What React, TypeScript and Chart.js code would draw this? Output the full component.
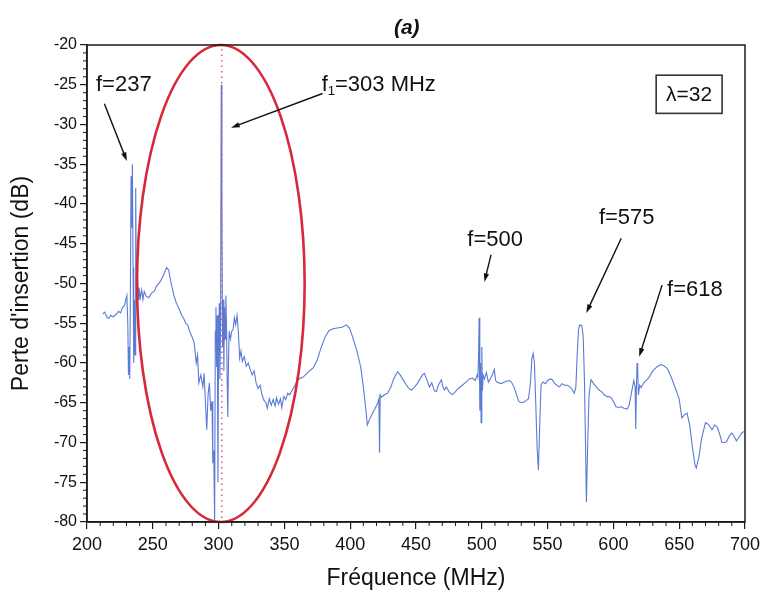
import { useEffect, useRef } from "react";
import { Chart, registerables } from "chart.js";

Chart.register(...registerables);

// ---- Data ----
const frequencies = [
  212, 213.5, 215, 216.5, 218, 220, 222, 224, 225.5, 227, 228.5, 229.5, 230.3, 231, 231.5, 232, 232.5, 233, 233.5, 234,
  234.5, 235, 235.5, 236, 236.5, 237, 237.5, 238, 238.5, 239, 239.5, 240.5, 241.5, 242.5, 243.5, 245, 247, 249, 251, 253,
  255.5, 258, 260.5, 262, 264, 266, 268, 270, 272, 273.5, 275, 276.5, 278, 280, 281.5, 283, 284, 285, 286.5, 288,
  289, 290, 291, 292, 293, 294, 295, 295.6, 296.3, 297, 297.5, 298, 298.5, 299, 299.5, 300, 300.5, 301, 301.5, 302,
  302.5, 303, 303.5, 304, 304.5, 305, 305.5, 306, 306.5, 307, 307.5, 308, 309, 310, 311, 312, 313, 314, 315, 316,
  317, 318, 319.5, 321, 322.5, 324, 325.5, 327, 328.5, 330, 331.5, 333, 334.5, 336, 337, 338.5, 340, 341.5, 343, 344,
  345.5, 347, 348, 349.5, 351, 352.5, 354, 356, 358, 360, 362, 364, 366, 369, 372, 375, 378, 381, 384, 387,
  390, 394, 397, 399.5, 402, 405, 408, 410, 412, 413, 415, 417, 419, 421, 421.8, 422.3, 422.8, 423.8, 426, 428.4,
  431, 433, 436, 438, 439.8, 442, 444.5, 446.6, 449, 451, 453, 455, 456.4, 458, 460.2, 462, 464, 465.5, 467, 469.3,
  470.5, 471.6, 473, 475, 477.7, 480, 482, 485.3, 488, 490.5, 492.9, 495, 496.5, 497, 497.5, 498, 498.5, 499, 499.5, 500,
  500.5, 501, 502, 503.5, 505, 506.5, 508, 509.5, 510.5, 511.5, 513, 515, 517, 519, 521, 522.5, 524.5, 526, 528, 530,
  532, 534, 535.5, 537, 538, 539, 540, 541, 542, 543, 544, 545, 546.5, 548.5, 550, 552, 553.6, 555, 557, 559,
  561, 563, 565, 567, 568.5, 570.3, 571.5, 572.5, 573.5, 574.5, 576, 577, 578, 579, 579.5, 580.5, 581.5, 583, 585, 587,
  589, 591, 593, 595, 598, 600, 602, 604, 606, 608, 610.5, 612, 614, 615.5, 616.5, 617, 617.5, 618, 618.5, 619,
  620, 621, 623, 625, 627, 630, 633, 636, 638, 641, 644, 647.6, 650, 652, 654, 656, 658, 660, 662, 663,
  665, 667, 670, 672, 675, 677, 678.7, 680.5, 682.5, 684, 686, 688, 690, 692, 693.5, 695.5, 697.5, 699.3,
];

const losses = [
  -53.8, -53.6, -54.2, -54.4, -54.0, -54.2, -53.9, -53.5, -53.7, -53.0, -52.8, -52.0, -51.5, -55, -61.5, -58, -62, -50, -36.5, -43,
  -35, -48, -60, -52, -59, -38, -50, -51, -49.5, -52, -50.5, -51.8, -50.8, -52, -51, -51.6, -51.8, -51.2, -51, -50.3,
  -49.8, -49, -48, -48.3, -50, -51.5, -52.5, -53.2, -54, -54.4, -55, -55.2, -56, -56.8, -57.5, -60, -59, -62.5, -61.5, -63,
  -61.3, -65, -68.4, -64, -62.5, -66, -64.8, -72.6, -71, -80, -56, -53, -60.5, -54, -75, -58, -52.5, -62, -55, -25,
  -40, -58, -52, -61, -53, -57, -51.5, -55, -62, -66.8, -60, -56, -57, -56, -55.8, -54.3, -55.2, -54, -56, -59.4,
  -58.5, -59.8, -59.2, -60.4, -60, -60.8, -61.5, -61, -62.5, -63.2, -62.8, -64, -64.7, -65, -65.7, -64.5, -65.3, -64.6, -65.4, -64.4,
  -65.2, -64.5, -65.6, -64.2, -64.6, -63.8, -64, -63.4, -62.8, -62.2, -61.9, -61.8, -61.5, -61, -60.6, -59.6, -58, -56.7, -55.9, -55.7,
  -55.6, -55.5, -55.2, -55.6, -56.8, -58.4, -60.5, -63, -66, -67.8, -67, -66.3, -65.7, -65, -64.5, -71.3, -64, -64.3, -64, -63.8,
  -63, -62, -61.1, -61.5, -62, -62.6, -63.2, -63.4, -63, -62.6, -62, -61.5, -61.3, -62, -63, -62.5, -63.5, -63.6, -62.8, -62.1,
  -63, -63.4, -63, -63.6, -64, -63.6, -63.2, -62.8, -62.4, -62, -61.9, -62.2, -61.5, -61.8, -59.5, -54.3, -66, -60, -67.5, -58,
  -63.5, -61.5, -62, -61.2, -62.4, -62, -61.5, -60.8, -62.2, -62.4, -62.5, -62.6, -62.4, -62.3, -62.2, -62.4, -63, -63.8, -64.8, -65,
  -64.9, -64.7, -64.5, -62.5, -59.5, -58.8, -60, -65, -70.5, -73.5, -68, -62.8, -62.4, -62.6, -62.2, -62, -62.1, -62.5, -62.8, -63,
  -62.6, -62.8, -62.8, -63, -63.3, -63.8, -63, -59, -55.8, -55.2, -55.3, -56.5, -62, -72, -77.5, -70, -64, -62.1, -62.6, -63,
  -63.4, -63.6, -64, -64.2, -64.3, -64.8, -65.5, -65.6, -65.5, -65.7, -65.8, -65.3, -63.5, -62.2, -63, -68.3, -63, -60, -61, -64,
  -62.8, -63.1, -62.5, -62.2, -61.8, -61, -60.5, -60.2, -60.3, -60.7, -61.8, -63.4, -64.5, -66.9, -66.5, -66.3, -67.8, -70.5, -72.8, -73.2,
  -71.8, -69.5, -67.5, -67.7, -68.4, -67.8, -68, -68.8, -70, -70, -69.9, -69.2, -68.8, -69.3, -69.8, -69.3, -68.8, -68.6,
];

const xMin = 200;
const xMax = 700;
const xStep = 50;
const yMin = -80;
const yMax = -20;
const yStep = 5;

const peakLabels = ["f=237", "f=500", "f=575", "f=618"];
const mainPeakFrequency = 303;

const FONT = "'Liberation Sans', Arial, Helvetica, sans-serif";

export default function App() {
  const canvasRef = useRef<HTMLCanvasElement | null>(null);

  useEffect(() => {
    const canvas = canvasRef.current;
    if (!canvas) return;

    const points = frequencies.map((f, i) => ({ x: f, y: losses[i] }));

    const decor = {
      id: "decor",
      afterDatasetsDraw(chart: any) {
        const { ctx, chartArea, scales } = chart;
        const xs = scales.x;
        const ys = scales.y;
        const px = (v: number) => xs.getPixelForValue(v);
        const py = (v: number) => ys.getPixelForValue(v);

        ctx.save();

        // dotted red vertical line at the main resonance
        ctx.strokeStyle = "#e0607a";
        ctx.lineWidth = 1.6;
        ctx.setLineDash([1.5, 4]);
        ctx.beginPath();
        ctx.moveTo(px(302.4), chartArea.top + 4);
        ctx.lineTo(px(302.4), chartArea.bottom);
        ctx.stroke();
        ctx.setLineDash([]);

        // red ellipse
        const cx = px(301.7);
        const cy = py(-50);
        const rx = Math.abs(px(365.4) - cx);
        const ry = Math.abs(py(-20) - cy);
        ctx.strokeStyle = "#d8283c";
        ctx.lineWidth = 2.6;
        ctx.beginPath();
        ctx.ellipse(cx, cy, rx, ry, 0, 0, Math.PI * 2);
        ctx.stroke();

        // frame
        ctx.strokeStyle = "#1a1a1a";
        ctx.lineWidth = 1.5;
        ctx.strokeRect(chartArea.left, chartArea.top, chartArea.right - chartArea.left, chartArea.bottom - chartArea.top);

        // minor ticks
        ctx.lineWidth = 1;
        ctx.beginPath();
        for (let f = xMin; f <= xMax; f += 10) {
          if (f % xStep === 0) continue;
          const x = px(f);
          ctx.moveTo(x, chartArea.bottom);
          ctx.lineTo(x, chartArea.bottom + 4);
        }
        for (let d = yMin; d <= yMax; d += 1) {
          if (d % yStep === 0) continue;
          const y = py(d);
          ctx.moveTo(chartArea.left, y);
          ctx.lineTo(chartArea.left - 4, y);
        }
        ctx.stroke();

        // arrows
        const arrow = (x1: number, y1: number, x2: number, y2: number) => {
          const ax = px(x1), ay = py(y1), bx = px(x2), by = py(y2);
          const ang = Math.atan2(by - ay, bx - ax);
          const head = 9;
          ctx.strokeStyle = "#111";
          ctx.fillStyle = "#111";
          ctx.lineWidth = 1.4;
          ctx.beginPath();
          ctx.moveTo(ax, ay);
          ctx.lineTo(bx - Math.cos(ang) * head * 0.8, by - Math.sin(ang) * head * 0.8);
          ctx.stroke();
          ctx.beginPath();
          ctx.moveTo(bx, by);
          ctx.lineTo(bx - head * Math.cos(ang - 0.3), by - head * Math.sin(ang - 0.3));
          ctx.lineTo(bx - head * Math.cos(ang + 0.3), by - head * Math.sin(ang + 0.3));
          ctx.closePath();
          ctx.fill();
        };
        arrow(213.2, -27.4, 230.3, -34.6);
        arrow(379, -26.1, 309.5, -30.4);
        arrow(507, -46.4, 502, -49.8);
        arrow(606, -44.3, 579.4, -53.7);
        arrow(637, -50.2, 619.6, -59.2);

        // labels
        ctx.fillStyle = "#111";
        ctx.textBaseline = "middle";
        ctx.textAlign = "left";
        ctx.font = `22px ${FONT}`;
        ctx.fillText(peakLabels[0], px(206.8), py(-25));
        ctx.fillText(peakLabels[1], px(489), py(-44.5));
        ctx.fillText(peakLabels[2], px(589), py(-41.8));
        ctx.fillText(peakLabels[3], px(640.8), py(-50.8));

        // f1=303 MHz with subscript
        let tx = px(378.3);
        const ty = py(-25);
        ctx.fillText("f", tx, ty);
        tx += ctx.measureText("f").width;
        ctx.font = `13px ${FONT}`;
        ctx.fillText("1", tx, ty + 7);
        tx += ctx.measureText("1").width;
        ctx.font = `22px ${FONT}`;
        ctx.fillText(`=${mainPeakFrequency} MHz`, tx, ty);

        // lambda box
        const bx1 = px(632.5), bx2 = px(682.6), by1 = py(-23.8), by2 = py(-28.6);
        ctx.strokeStyle = "#333";
        ctx.lineWidth = 1.6;
        ctx.strokeRect(bx1, by1, bx2 - bx1, by2 - by1);
        ctx.textAlign = "center";
        ctx.font = `21px ${FONT}`;
        ctx.fillText("λ=32", (bx1 + bx2) / 2, (by1 + by2) / 2 + 1);

        // title
        ctx.font = `italic bold 21px ${FONT}`;
        ctx.fillText("(a)", px(443), 28);

        ctx.restore();
      },
    };

    const chart = new Chart(canvas, {
      type: "line",
      data: {
        datasets: [
          {
            data: points,
            borderColor: "rgba(60,100,205,0.85)",
            borderWidth: 1.1,
            pointRadius: 0,
            tension: 0,
            fill: false,
          },
        ],
      },
      options: {
        animation: false,
        responsive: false,
        maintainAspectRatio: false,
        layout: { padding: { top: 45, right: 19, left: 0, bottom: 0 } },
        plugins: { legend: { display: false }, tooltip: { enabled: false }, title: { display: false } },
        scales: {
          x: {
            type: "linear",
            min: xMin,
            max: xMax,
            afterFit: (s: any) => { s.height = 71; },
            border: { display: true, color: "#1a1a1a", width: 1.5 },
            grid: { display: true, drawOnChartArea: false, drawTicks: true, tickLength: 7, color: "#1a1a1a", lineWidth: 1.2 },
            ticks: { stepSize: xStep, padding: 5, color: "#111", font: { family: FONT, size: 18 }, maxRotation: 0, autoSkip: false },
            title: { display: true, text: "Fréquence (MHz)", color: "#111", font: { family: FONT, size: 23 }, padding: { top: 0, bottom: 1 } },
          },
          y: {
            type: "linear",
            min: yMin,
            max: yMax,
            afterFit: (s: any) => { s.width = 87; },
            border: { display: true, color: "#1a1a1a", width: 1.5 },
            grid: { display: true, drawOnChartArea: false, drawTicks: true, tickLength: 7, color: "#1a1a1a", lineWidth: 1.2 },
            ticks: { stepSize: yStep, padding: 3, color: "#111", font: { family: FONT, size: 16 }, autoSkip: false },
            title: { display: true, text: "Perte d'insertion (dB)", color: "#111", font: { family: FONT, size: 23 }, padding: { top: 8, bottom: 0 } },
          },
        },
      },
      plugins: [decor],
    });

    return () => chart.destroy();
  }, []);

  return (
    <div style={{ position: "absolute", left: 0, top: 0, width: 765, height: 593, background: "#fff" }}>
      <canvas ref={canvasRef} width={765} height={593} style={{ display: "block", width: 765, height: 593 }} />
    </div>
  );
}
